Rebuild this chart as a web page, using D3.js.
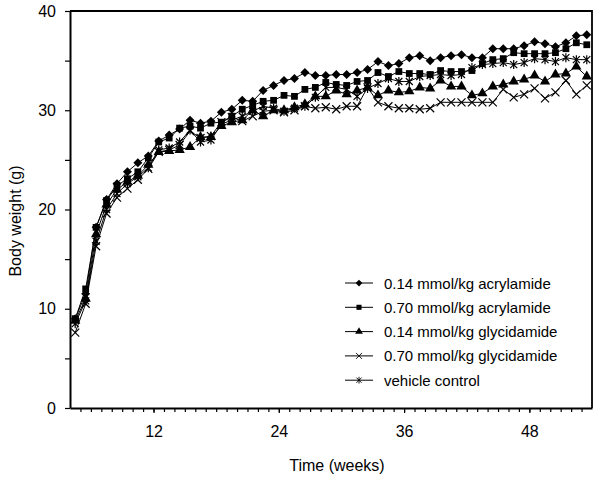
<!DOCTYPE html>
<html><head><meta charset="utf-8">
<script src="https://cdn.jsdelivr.net/npm/d3@7"></script>
<style>body{margin:0;background:#fff}svg{font-family:Arial,"Liberation Sans",sans-serif}</style>
</head><body><svg id="c" width="600" height="478"></svg>
<script>
const weeks = [4.5,5.5,6.5,7.5,8.5,9.5,10.5,11.5,12.5,13.5,14.5,15.5,16.5,17.5,18.5,19.5,20.5,21.5,22.5,23.5,24.5,25.5,26.5,27.5,28.5,29.5,30.5,31.5,32.5,33.5,34.5,35.5,36.5,37.5,38.5,39.5,40.5,41.5,42.5,43.5,44.5,45.5,46.5,47.5,48.5,49.5,50.5,51.5,52.5,53.5];
const acr014 = [9.0,11.5,18.2,21.0,22.6,23.8,24.7,25.4,26.9,27.5,28.1,29.0,28.7,28.9,29.8,30.1,31.0,30.9,32.0,32.5,33.0,33.2,33.8,33.5,33.5,33.6,33.6,33.8,34.1,34.9,34.5,34.7,35.3,35.5,35.0,35.3,35.5,35.6,35.3,35.3,36.2,36.2,36.2,36.5,36.9,36.7,36.4,36.8,37.5,37.6];
const acr070 = [9.0,12.0,18.2,20.9,22.4,23.1,23.8,25.2,26.8,27.2,28.2,28.4,28.2,28.7,28.8,29.4,30.1,30.5,30.9,31.0,31.5,31.4,32.1,32.3,32.8,32.6,32.5,32.9,33.0,33.8,33.4,33.9,33.7,33.7,33.6,34.0,33.9,33.9,34.0,34.7,35.1,35.2,35.8,35.7,35.7,35.7,35.8,36.2,36.8,36.6];
const gly014 = [8.8,11.0,17.5,20.5,22.0,22.8,23.4,24.5,25.8,25.9,26.0,26.3,27.3,27.3,28.4,28.8,29.0,30.0,29.4,30.0,30.0,30.3,30.6,31.4,31.4,32.0,31.6,32.0,32.3,31.5,32.0,31.8,31.9,32.3,32.2,33.0,32.4,32.4,31.5,31.7,32.4,32.6,32.9,33.1,33.5,32.9,33.6,33.7,34.4,33.4];
const gly070 = [7.6,10.5,16.3,19.6,21.2,22.1,23.0,24.1,25.8,26.0,26.5,27.9,27.2,27.4,28.8,29.3,28.9,29.4,29.9,30.0,29.8,30.0,30.4,30.2,30.3,30.1,30.4,30.4,32.3,30.8,30.4,30.2,30.2,30.1,30.2,30.8,30.8,30.8,30.8,30.8,30.8,32.1,31.3,31.6,32.2,31.2,31.8,33.0,31.6,32.5];
const vehicle = [8.5,10.8,16.8,20.0,21.6,22.6,23.3,24.2,26.0,26.2,26.8,28.0,26.8,27.0,28.6,29.0,29.4,29.9,30.4,30.2,29.9,30.2,30.4,31.3,32.3,32.3,32.1,31.4,32.2,32.7,33.2,32.9,32.9,33.4,33.5,33.6,33.5,33.6,34.3,34.6,34.7,34.8,34.6,34.8,35.2,35.1,34.9,35.3,35.1,35.1];
const seriesNames = ["0.14 mmol/kg acrylamide","0.70 mmol/kg acrylamide","0.14 mmol/kg glycidamide","0.70 mmol/kg glycidamide","vehicle control"];
const seriesValues = [acr014, acr070, gly014, gly070, vehicle];
const markerTypes = ["diamond","square","triangle","times","asterisk"];
const xTickValues = [12,24,36,48];
const yTickValues = [0,10,20,30,40];
const xTitle = "Time (weeks)";
const yTitle = "Body weight (g)";

const svg = d3.select("#c");
const x = d3.scaleLinear([4,54],[70,592]);
const y = d3.scaleLinear([0,40],[408,11]);

// frame top & right
svg.append("path").attr("d",`M${x(4)},${y(40)}H${x(54)}V${y(0)}`).attr("fill","none").attr("stroke","#000").attr("stroke-width",1.8);

// minor ticks
const xMinor = svg.append("g").attr("transform",`translate(0,${y(0)})`)
  .call(d3.axisBottom(x).tickValues(d3.range(5,54,1)).tickSize(4).tickFormat(""));
xMinor.select(".domain").remove();
const yMinor = svg.append("g").attr("transform",`translate(${x(4)},0)`)
  .call(d3.axisLeft(y).tickValues([5,15,25,35]).tickSize(5).tickFormat(""));
yMinor.select(".domain").remove();

const xa = svg.append("g").attr("transform",`translate(0,${y(0)})`)
  .call(d3.axisBottom(x).tickValues(xTickValues).tickSize(5).tickPadding(13).tickSizeOuter(0));
const ya = svg.append("g").attr("transform",`translate(${x(4)},0)`)
  .call(d3.axisLeft(y).tickValues(yTickValues).tickSize(5).tickPadding(9).tickSizeOuter(0));
[xa,ya].forEach(a=>{
  a.selectAll("text").attr("font-size",16).attr("fill","#000").attr("font-family","Arial,'Liberation Sans',sans-serif");
  a.select(".domain").attr("stroke-width",2);
});
svg.selectAll(".tick line").attr("stroke","#000").attr("stroke-width",1.2);

svg.append("text").attr("x",337).attr("y",471).attr("text-anchor","middle").attr("font-size",16).text(xTitle);
svg.append("text").attr("transform","translate(21,221) rotate(-90)").attr("text-anchor","middle").attr("font-size",16).text(yTitle);

function marker(g, type){
  if(type==="diamond") g.append("path").attr("d","M0,-4.5L4.5,0L0,4.5L-4.5,0Z").attr("fill","#000");
  else if(type==="square") g.append("path").attr("d",d3.symbol(d3.symbolSquare,46)()).attr("fill","#000");
  else if(type==="triangle") g.append("path").attr("d",d3.symbol(d3.symbolTriangle,46)()).attr("fill","#000");
  else if(type==="times") g.append("path").attr("d","M-4,-4L4,4M-4,4L4,-4").attr("stroke","#000").attr("stroke-width",1.2).attr("fill","none");
  else g.append("path").attr("d","M-3.5,-3.5L3.5,3.5M-3.5,3.5L3.5,-3.5M0,-4.5V4.5").attr("stroke","#000").attr("stroke-width",1.2).attr("fill","none");
}

const line = d3.line().x((d,i)=>x(weeks[i])).y(d=>y(d));
seriesValues.forEach((vals,si)=>{
  svg.append("path").datum(vals).attr("d",line).attr("fill","none").attr("stroke","#000").attr("stroke-width",1);
});
seriesValues.forEach((vals,si)=>{
  vals.forEach((v,i)=>{
    const g = svg.append("g").attr("transform",`translate(${x(weeks[i])},${y(v)})`);
    marker(g, markerTypes[si]);
  });
});

// legend
const lg = svg.append("g");
seriesNames.forEach((n,i)=>{
  const yy = 283 + i*24.3;
  lg.append("line").attr("x1",345).attr("x2",373).attr("y1",yy).attr("y2",yy).attr("stroke","#000").attr("stroke-width",1);
  const g = lg.append("g").attr("transform",`translate(359,${yy})`);
  marker(g, markerTypes[i]);
  g.selectAll("path").attr("transform","scale(0.75)");
  lg.append("text").attr("x",384).attr("y",yy+5.5).attr("font-size",15).text(n);
});
</script></body></html>
